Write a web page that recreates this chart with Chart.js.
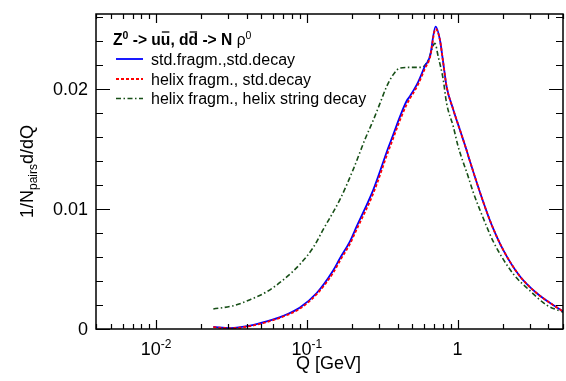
<!doctype html>
<html>
<head>
<title>rho0 pair spectrum</title>
<script src="https://cdn.jsdelivr.net/npm/chart.js@4.4.1/dist/chart.umd.min.js"></script>
<style>
body { margin: 0; background: #fff; }
#container { width: 566px; height: 381px; }
</style>
</head>
<body>
<div id="container"><canvas id="canvas"></canvas></div>
<script>
// Q values [GeV] and 1/N dN/dQ for the standard and helix fragmentation runs
var qStd = [0.024, 0.031, 0.042, 0.0542, 0.0699, 0.0901, 0.1163, 0.1499, 0.166, 0.1933, 0.2141, 0.2759, 0.3468, 0.3743, 0.4146, 0.4592, 0.483, 0.5482, 0.6071, 0.6552, 0.7148, 0.7633, 0.8027, 0.8455, 0.9351, 1.0356, 1.147, 1.206, 1.478, 1.68, 2.005, 2.588, 3.338, 4.30, 5.0];
var nStdStd = [0.00017, 0.00008, 0.00028, 0.00063, 0.0011, 0.0018, 0.0030, 0.0049, 0.0059, 0.0073, 0.00855, 0.0116, 0.0151, 0.0162, 0.0177, 0.0190, 0.0194, 0.0206, 0.0219, 0.0227, 0.0252, 0.0241, 0.0222, 0.0202, 0.0183, 0.0166, 0.0149, 0.0140, 0.0106, 0.0087, 0.0066, 0.0044, 0.0030, 0.0020, 0.00147];
var nHelixStd = [0.00015, 0.00006, 0.00024, 0.00058, 0.00104, 0.0017, 0.0029, 0.0047, 0.0057, 0.0071, 0.0083, 0.0113, 0.0148, 0.0159, 0.0174, 0.0187, 0.0192, 0.0204, 0.0217, 0.0226, 0.0250, 0.0241, 0.0222, 0.0202, 0.0183, 0.0166, 0.0149, 0.0140, 0.0106, 0.0087, 0.0066, 0.0044, 0.0030, 0.0020, 0.00147];

// helix fragmentation with helix string decay
var qString = [0.024, 0.0326, 0.042, 0.0542, 0.0699, 0.0901, 0.1104, 0.1286, 0.166, 0.2033, 0.2311, 0.243, 0.2759, 0.3056, 0.3384, 0.3743, 0.4146, 0.483, 0.5772, 0.6385, 0.7073, 0.7437, 0.8027, 0.8455, 0.9351, 1.009, 1.175, 1.269, 1.517, 1.722, 2.336, 3.013, 3.89, 5.0];
var nHelixString = [0.00167, 0.00194, 0.00244, 0.0031, 0.0041, 0.0054, 0.0068, 0.0083, 0.0108, 0.0133, 0.0151, 0.0158, 0.0174, 0.0188, 0.0202, 0.0212, 0.02175, 0.0218, 0.0218, 0.0224, 0.0238, 0.0227, 0.0208, 0.0188, 0.0169, 0.0152, 0.0127, 0.0114, 0.0089, 0.0073, 0.0046, 0.0032, 0.0020, 0.0014];

var seriesNames = ['std.fragm.,std.decay', 'helix fragm., std.decay', 'helix fragm., helix string decay'];
var xMin = 0.004, xMax = 5;
var yMin = 0, yMax = 0.02625;
var yLabelValues = [0, 0.01, 0.02];
var yLabelTexts = ['0', '0.01', '0.02'];
var xLabelValues = [0.01, 0.1, 1];
var xLabelTexts = [['10', '-2'], ['10', '-1'], ['1', '']];

var FONT = '"Liberation Sans", Arial, Helvetica, sans-serif';

function toPoints(xs, ys) {
	return xs.map(function (q, i) { return { x: q, y: ys[i] }; });
}

// frame with inward ticks on all four sides, tick labels, axis titles and the legend box
var framePlugin = {
	id: 'frame',
	afterDraw: function (chart) {
		var ctx = chart.ctx;
		var a = chart.chartArea;
		var xs = chart.scales.x, ys = chart.scales.y;
		ctx.save();
		ctx.strokeStyle = '#000';
		ctx.fillStyle = '#000';
		ctx.lineWidth = 1.5;
		ctx.strokeRect(a.left, a.top, a.right - a.left, a.bottom - a.top);

		// log ticks along x
		ctx.lineWidth = 1.2;
		for (var e = -3; e <= 0; e++) {
			for (var m = 1; m <= 9; m++) {
				var v = m * Math.pow(10, e);
				if (v < xMin || v > xMax) continue;
				var px = Math.round(xs.getPixelForValue(v)) + 0.5;
				var len = (m === 1) ? 9 : 5;
				ctx.beginPath();
				ctx.moveTo(px, a.bottom); ctx.lineTo(px, a.bottom - len);
				ctx.moveTo(px, a.top); ctx.lineTo(px, a.top + len);
				ctx.stroke();
			}
		}
		// linear ticks along y
		for (var i = 0; i * 0.002 <= yMax + 1e-9; i++) {
			var py = Math.round(ys.getPixelForValue(i * 0.002)) + 0.5;
			var l = (i % 5 === 0) ? 14 : 7;
			ctx.beginPath();
			ctx.moveTo(a.left, py); ctx.lineTo(a.left + l, py);
			ctx.moveTo(a.right, py); ctx.lineTo(a.right - l, py);
			ctx.stroke();
		}

		// y tick labels
		ctx.font = '18px ' + FONT;
		ctx.textAlign = 'right';
		ctx.textBaseline = 'middle';
		yLabelValues.forEach(function (v, k) {
			ctx.fillText(yLabelTexts[k], a.left - 8, ys.getPixelForValue(v) + 1);
		});

		// x tick labels, power of ten with raised exponent
		ctx.textBaseline = 'alphabetic';
		ctx.textAlign = 'left';
		xLabelValues.forEach(function (v, k) {
			var base = xLabelTexts[k][0], exp = xLabelTexts[k][1];
			ctx.font = '18px ' + FONT;
			var wb = ctx.measureText(base).width;
			ctx.font = '12px ' + FONT;
			var we = exp ? ctx.measureText(exp).width : 0;
			var x0 = xs.getPixelForValue(v) - (wb + we) / 2;
			ctx.font = '18px ' + FONT;
			ctx.fillText(base, x0, 355);
			if (exp) {
				ctx.font = '12px ' + FONT;
				ctx.fillText(exp, x0 + wb, 348);
			}
		});

		// axis titles
		ctx.font = '18px ' + FONT;
		ctx.textAlign = 'center';
		ctx.fillText('Q [GeV]', (a.left + a.right) / 2 - 1, 369);

		ctx.save();
		ctx.translate(33, (a.top + a.bottom) / 2);
		ctx.rotate(-Math.PI / 2);
		ctx.textAlign = 'left';
		var parts = [['1/N', 18, 0], ['pairs', 12, 4], ['d/dQ', 18, 0]];
		var total = 0;
		parts.forEach(function (p) { ctx.font = p[1] + 'px ' + FONT; total += ctx.measureText(p[0]).width; });
		var cx = -total / 2;
		parts.forEach(function (p) {
			ctx.font = p[1] + 'px ' + FONT;
			ctx.fillText(p[0], cx, p[2]);
			cx += ctx.measureText(p[0]).width;
		});
		ctx.restore();

		// legend header: Z0 -> u ubar, d dbar -> N rho0
		var hx = 113, hy = 45;
		var head = [
			['Z', 'bold 15.6px', 0, false], ['0', 'bold 10.5px', -6, false],
			[' -> u', 'bold 15.6px', 0, false], ['u', 'bold 15.6px', 0, true],
			[', d', 'bold 15.6px', 0, false], ['d', 'bold 15.6px', 0, true],
			[' -> N ', 'bold 15.6px', 0, false], ['\u03c1', '15.6px', 0, false],
			['0', '10.5px', -6, false]
		];
		ctx.textAlign = 'left';
		head.forEach(function (h) {
			ctx.font = h[1] + ' ' + FONT;
			var w = ctx.measureText(h[0]).width;
			ctx.fillText(h[0], hx, hy + h[2]);
			if (h[3]) {
				ctx.lineWidth = 1.3;
				ctx.beginPath();
				ctx.moveTo(hx + 1, hy - 13); ctx.lineTo(hx + w - 1, hy - 13);
				ctx.stroke();
			}
			hx += w;
		});

		// legend entries with line samples in each series' style
		var rows = [59, 79, 98.5];
		var sets = chart.data.datasets;
		ctx.font = '16px ' + FONT;
		sets.forEach(function (ds, k) {
			ctx.save();
			ctx.strokeStyle = ds.borderColor;
			ctx.lineWidth = ds.borderWidth;
			ctx.setLineDash(ds.borderDash || []);
			ctx.beginPath();
			ctx.moveTo(116, rows[k]); ctx.lineTo(143, rows[k]);
			ctx.stroke();
			ctx.restore();
			ctx.fillText(seriesNames[k], 151, rows[k] + 5.5);
		});
		ctx.restore();
	}
};

var ctx = document.getElementById('canvas').getContext('2d');
window.myChart = new Chart(ctx, {
	type: 'line',
	data: {
		datasets: [
			{
				label: seriesNames[0],
				data: toPoints(qStd, nStdStd),
				borderColor: '#0000ff',
				borderWidth: 1.8,
				order: 2
			},
			{
				label: seriesNames[1],
				data: toPoints(qStd, nHelixStd),
				borderColor: '#ff0000',
				borderWidth: 1.8,
				borderDash: [3, 2],
				order: 1
			},
			{
				label: seriesNames[2],
				data: toPoints(qString, nHelixString),
				borderColor: '#174f17',
				borderWidth: 1.6,
				borderDash: [5, 2.5, 1.5, 2.5],
				order: 3
			}
		]
	},
	options: {
		responsive: true,
		maintainAspectRatio: false,
		animation: false,
		layout: { padding: { left: 96, right: 3, top: 14, bottom: 52 } },
		elements: {
			point: { radius: 0 },
			line: { cubicInterpolationMode: 'monotone', fill: false }
		},
		plugins: {
			legend: { display: false },
			tooltip: { enabled: false }
		},
		scales: {
			x: { type: 'logarithmic', min: xMin, max: xMax, display: false },
			y: { type: 'linear', min: yMin, max: yMax, display: false }
		}
	},
	plugins: [framePlugin]
});
</script>
</body>
</html>
